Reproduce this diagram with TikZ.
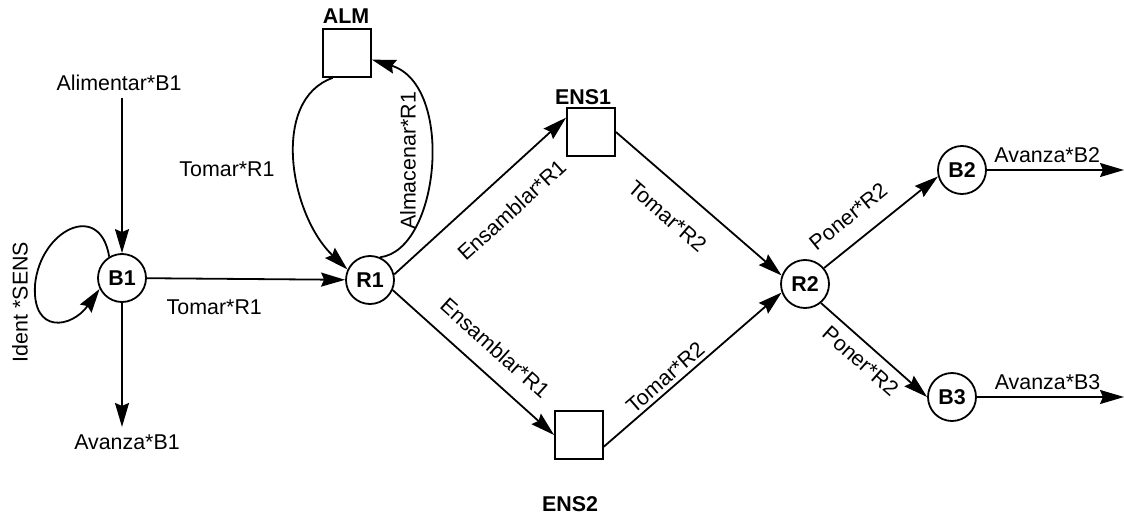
\documentclass[tikz,border=0pt]{standalone}
\usepackage{fontspec}
\setmainfont{Liberation Sans}
\usetikzlibrary{arrows.meta}

\begin{document}
\begin{tikzpicture}[x=0.5pt,y=-0.5pt,line width=0.9pt,>={Stealth[length=12pt,width=7pt,inset=1.5pt]},
    font=\fontsize{10.7pt}{13pt}\selectfont,
    place/.style={circle,draw,minimum size=24pt,inner sep=0pt,font=\fontsize{10.7pt}{13pt}\selectfont\bfseries},
    store/.style={rectangle,draw,minimum size=24pt,inner sep=0pt},
    tag/.style={font=\fontsize{10.7pt}{13pt}\selectfont\bfseries}]
    \useasboundingbox (0,0) rectangle (1124,519);

    % places and stores
    \node[place] (B1) at (122,278) {B1};
    \node[place] (R1) at (370,280) {R1};
    \node[place] (R2) at (805,284) {R2};
    \node[place] (B2) at (962,170) {B2};
    \node[place] (B3) at (952,397) {B3};
    \node[store] (ALM) at (347,53) {};
    \node[store] (ENS1) at (591,132) {};
    \node[store] (ENS2) at (579,435) {};
    \node[tag] (almtag) at (346,16) {ALM};
    \node[tag] (ens1tag) at (583,97) {ENS1};
    \node[tag] (ens2tag) at (570,504) {ENS2};

    % free texts
    \node[] (alim) at (119,83) {Alimentar*B1};
    \node[] (avB1) at (127,442) {Avanza*B1};
    \node[rotate=90] (ident) at (20,302) {Ident *SENS};
    \node[] (tomalm) at (227,169) {Tomar*R1};
    \node[rotate=90] (almac) at (408,161) {Almacenar*R1};
    \coordinate (outB2) at (1124,170);
    \coordinate (outB3) at (1124,397);

    \draw[->] (alim.south -| B1.north) -- (B1.north);
    \draw[->] (B1.south) -- (B1.south |- avB1.north);
    \draw[->] (B1.121) .. controls (100,200) and (40,230) .. (35,285)
        .. controls (32,335) and (72,328) .. (B1.206);
    \draw[->] (B1) -- node[pos=0.34,below=6.7pt] (tomb1) {Tomar*R1} (R1);
    \draw[->] (ALM.240) .. controls (270,100) and (290,215) .. (R1.155);
    \draw[->] (R1.66) .. controls (440,250) and (455,85) .. (ALM.-15);
    \draw[->] (R1.13) -- node[pos=0.56,sloped,below=8pt] (ens1lbl) {Ensamblar*R1} (ENS1.150);
    \draw[->] (R1.-24) -- node[pos=0.53,sloped,above=5pt] (ens2lbl) {Ensamblar*R1} (ENS2.west);
    \draw[->] (ENS1.east) -- node[pos=0.43,sloped,below=7.5pt] (tom1lbl) {Tomar*R2} (R2.160);
    \draw[->] (ENS2.-25) -- node[pos=0.39,sloped,above=-1.5pt] (tom2lbl) {Tomar*R2} (R2.200);
    \draw[->] (R2.40) -- node[pos=0.35,sloped,above=5pt] (pon1lbl) {Poner*R2} (B2.195);
    \draw[->] (R2.-50) -- node[pos=0.48,sloped,below=1pt] (pon2lbl) {Poner*R2} (B3.west);
    \draw[->] (B2.east) -- node[pos=0.44,above] (avB2) {Avanza*B2} (outB2);
    \draw[->] (B3.east) -- node[pos=0.48,above] (avB3) {Avanza*B3} (outB3);
\end{tikzpicture}
\end{document}
